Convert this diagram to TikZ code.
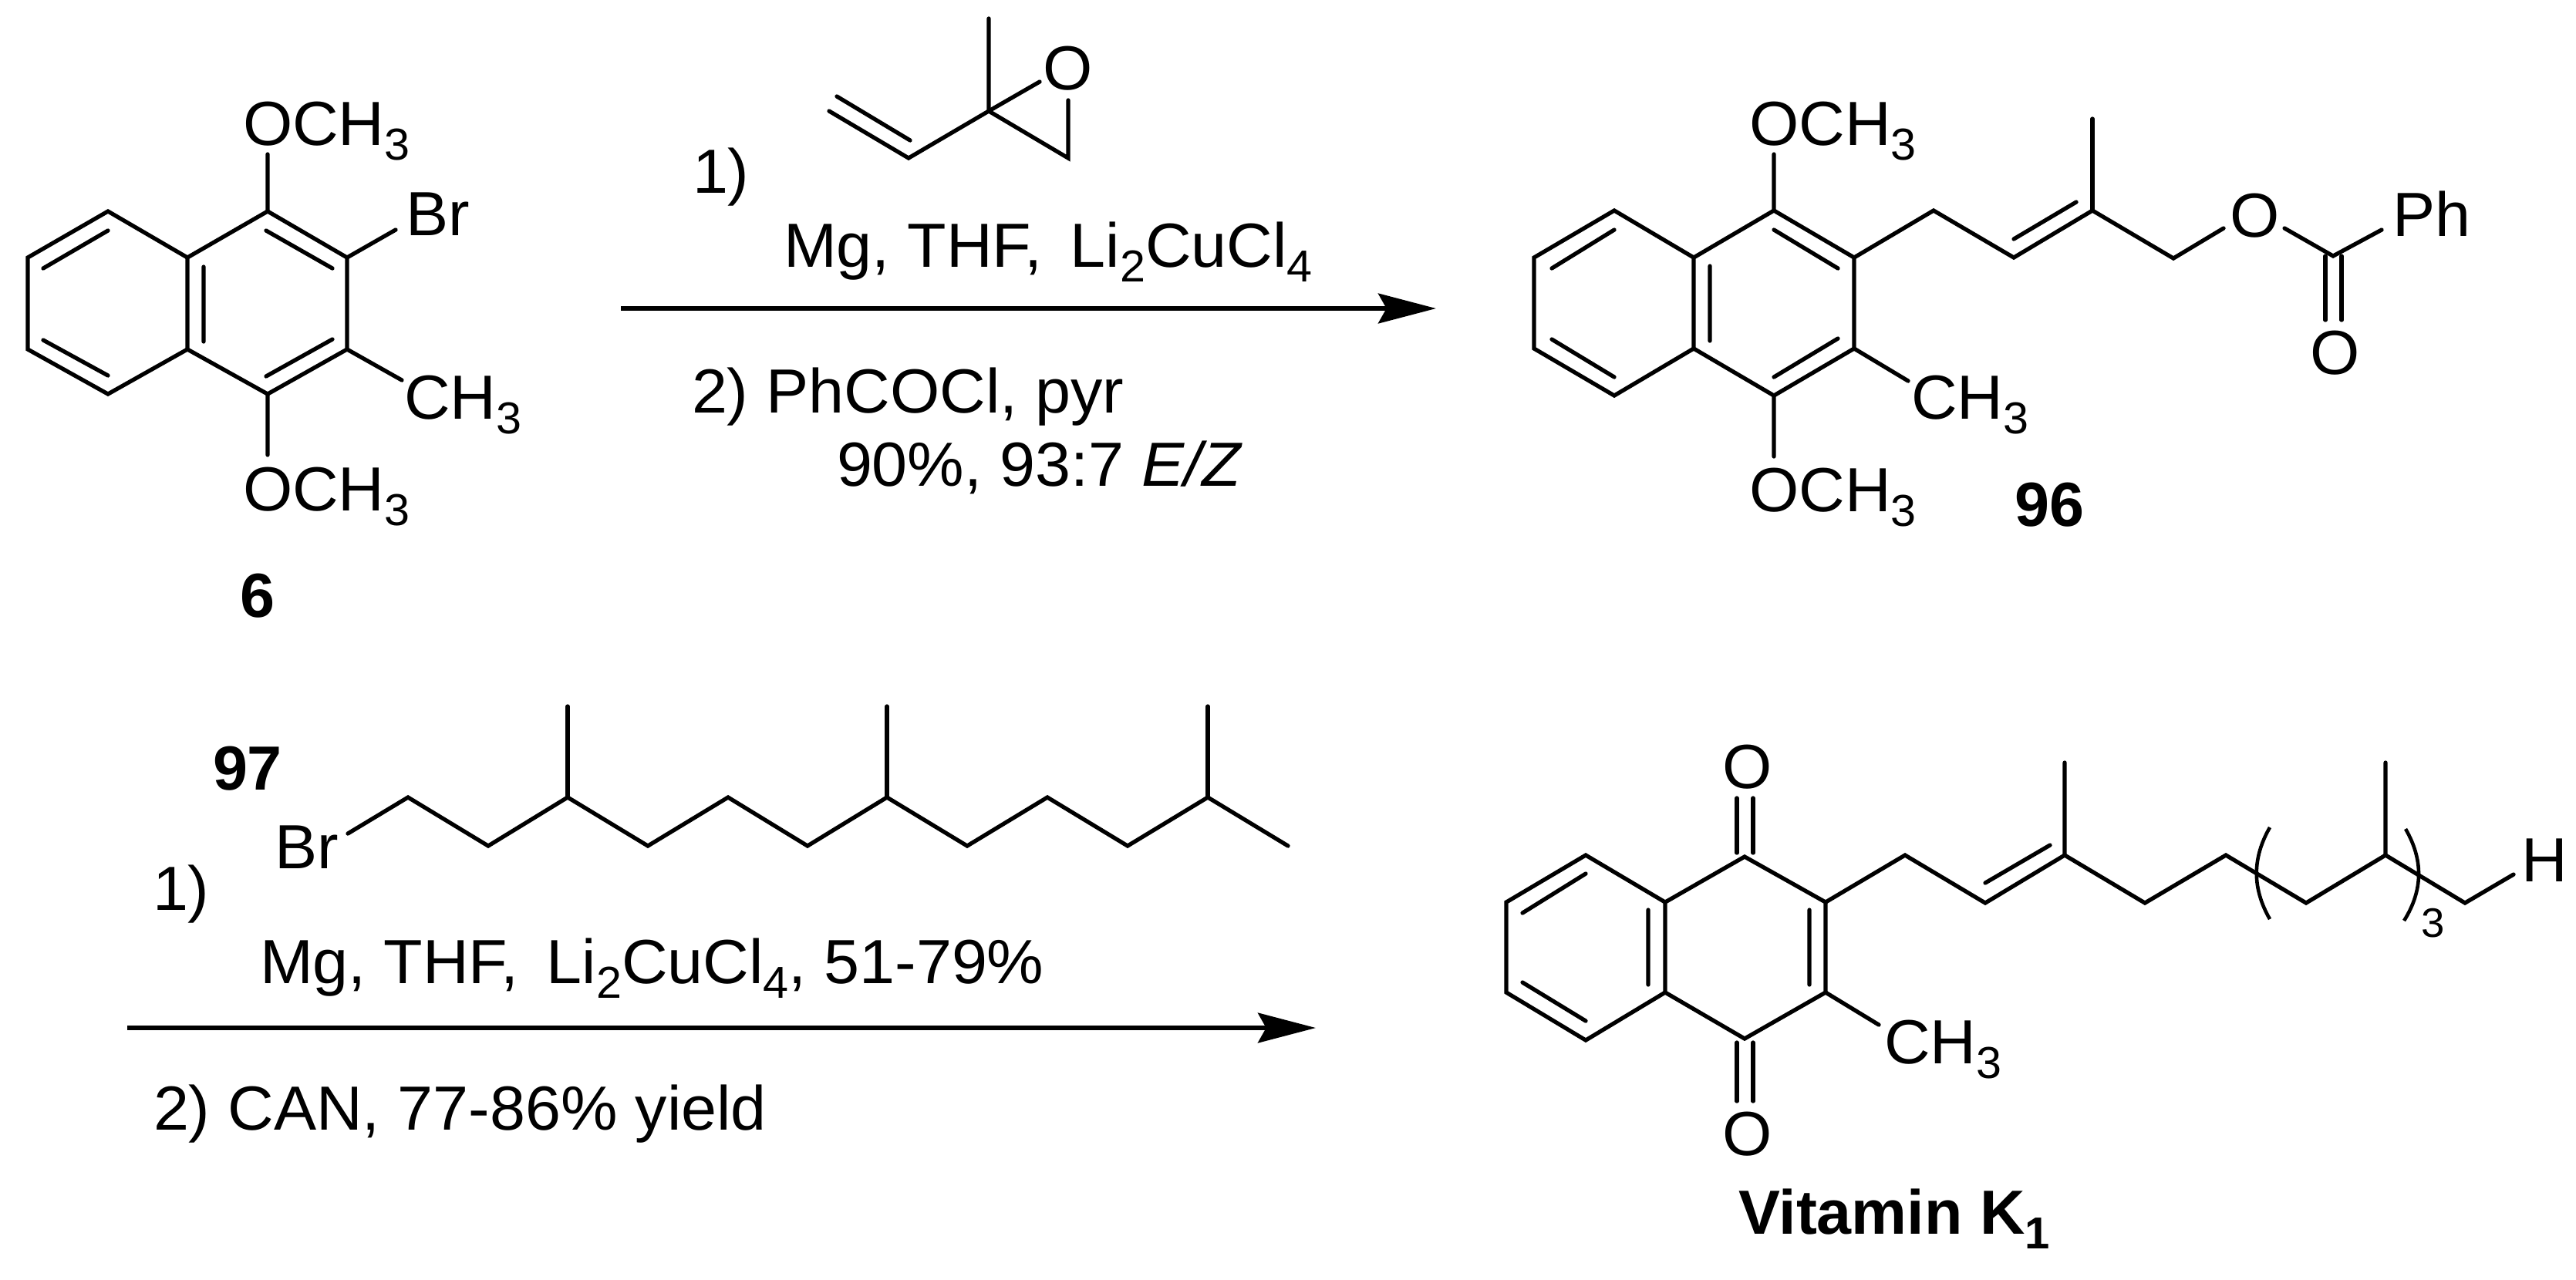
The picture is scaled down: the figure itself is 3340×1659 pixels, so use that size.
\documentclass[tikz,border=0pt]{standalone}
\usepackage{fontspec}
\setmainfont{Liberation Sans}[UprightFeatures={FakeStretch=1.022},ItalicFeatures={FakeStretch=1.022}]
\usetikzlibrary{arrows.meta}
\newcommand{\subs}[1]{\raisebox{-5.4pt}{\fontsize{16.5}{16.5}\selectfont #1}}
\newcommand{\subb}[1]{\raisebox{-5.4pt}{\fontsize{16.5}{16.5}\selectfont\bfseries #1}}
\tikzset{
  x=0.01cm,y=-0.01cm,
  bond/.style={line width=1.5pt,line cap=round,line join=miter},
  txt/.style={anchor=base west,inner sep=0pt,outer sep=0pt,font=\fontsize{23}{23}\selectfont},
  bld/.style={txt,font=\fontsize{23}{23}\selectfont\bfseries},
  rxn/.style={line width=1.7pt,-{Stealth[length=21.3pt,width=11pt,inset=3pt]}}
}
\begin{document}
\begin{tikzpicture}
\useasboundingbox (0,0) rectangle (3340,1659);
\fill[white] (0,0) rectangle (3340,1659);

% ---------- compound 6 ----------
\coordinate (a1) at (347,274);
\coordinate (a2) at (450,334);
\coordinate (a3) at (450,453);
\coordinate (a4) at (347,511);
\coordinate (a5) at (243,453);
\coordinate (a6) at (243,334);
\coordinate (a7) at (140,274);
\coordinate (a8) at (36,334);
\coordinate (a9) at (36,453);
\coordinate (a10) at (140,511);
\draw[bond] (a1)--(a2)--(a3)--(a4)--(a5)--(a6)--cycle;
\draw[bond] (a6)--(a7)--(a8)--(a9)--(a10)--(a5);
\coordinate (ai1) at (140,299); \coordinate (ai2) at (56,348);
\coordinate (ai3) at (56,441); \coordinate (ai4) at (140,487);
\coordinate (ai5) at (264,346); \coordinate (ai6) at (264,443);
\coordinate (ai7) at (345,299); \coordinate (ai8) at (431,348);
\coordinate (ai9) at (431,440); \coordinate (ai10) at (345,488);
\draw[bond] (ai1)--(ai2) (ai3)--(ai4) (ai5)--(ai6) (ai7)--(ai8) (ai9)--(ai10);
\coordinate (ae1) at (347,200); \coordinate (ae2) at (347,590);
\coordinate (ae3) at (513,298); \coordinate (ae4) at (521,493);
\draw[bond] (a1)--(ae1) (a4)--(ae2) (a2)--(ae3) (a3)--(ae4);
\node[txt] (aOt) at (315,188) {OCH\subs{3}};
\node[txt] (aBr) at (526,305) {Br};
\node[txt] (aMe) at (524,543) {CH\subs{3}};
\node[txt] (aOb) at (315,662) {OCH\subs{3}};
\node[bld] (lab6) at (311,800) {6};

% ---------- epoxide reagent ----------
\coordinate (e1) at (1282,144);
\coordinate (e2) at (1282,24);
\coordinate (e3) at (1178,205);
\coordinate (e4) at (1075,144);
\coordinate (e5) at (1085,125);
\coordinate (e6) at (1180,182);
\coordinate (e7) at (1348,106);
\coordinate (e8) at (1385,205);
\coordinate (e9) at (1385,130);
\draw[bond] (e4)--(e3)--(e1)--(e2);
\draw[bond] (e5)--(e6);
\draw[bond] (e1)--(e7);
\draw[bond] (e9)--(e8)--(e1);
\node[txt] (eO) at (1352,116) {O};
\node[txt] (r1a) at (898,250) {1)};
\node[txt] (r1b) at (1016,346) {Mg, THF,\, Li\subs{2}CuCl\subs{4}};
\node[txt] (r1c) at (897,535) {2) PhCOCl, pyr};
\node[txt] (r1d) at (1085,630) {90\%, 93:7 \textit{E/Z}};
\coordinate (ar1s) at (805,400); \coordinate (ar1e) at (1862,400);
\draw[rxn] (ar1s)--(ar1e);

% ---------- compound 96 ----------
\coordinate (b1) at (2300,273);
\coordinate (b2) at (2404,334);
\coordinate (b3) at (2404,452);
\coordinate (b4) at (2300,513);
\coordinate (b5) at (2196,452);
\coordinate (b6) at (2196,334);
\coordinate (b7) at (2093,273);
\coordinate (b8) at (1989,334);
\coordinate (b9) at (1989,452);
\coordinate (b10) at (2093,513);
\draw[bond] (b1)--(b2)--(b3)--(b4)--(b5)--(b6)--cycle;
\draw[bond] (b6)--(b7)--(b8)--(b9)--(b10)--(b5);
\coordinate (bi1) at (2093,298); \coordinate (bi2) at (2012,348);
\coordinate (bi3) at (2012,440); \coordinate (bi4) at (2093,489);
\coordinate (bi5) at (2217,345); \coordinate (bi6) at (2217,442);
\coordinate (bi7) at (2300,298); \coordinate (bi8) at (2383,348);
\coordinate (bi9) at (2383,439); \coordinate (bi10) at (2300,489);
\draw[bond] (bi1)--(bi2) (bi3)--(bi4) (bi5)--(bi6) (bi7)--(bi8) (bi9)--(bi10);
\coordinate (be1) at (2300,200); \coordinate (be2) at (2300,592);
\coordinate (be4) at (2474,494);
\draw[bond] (b1)--(be1) (b4)--(be2) (b3)--(be4);
\coordinate (c1) at (2507,273);
\coordinate (c2) at (2611,334);
\coordinate (c3) at (2713,273);
\coordinate (c4) at (2713,154);
\coordinate (c5) at (2818,335);
\coordinate (c6) at (2883,296);
\coordinate (c7) at (2962,296);
\coordinate (c8) at (3025,332);
\coordinate (c9) at (3088,298);
\coordinate (c10) at (2611,310); \coordinate (c11) at (2692,262);
\coordinate (c12) at (3015,332); \coordinate (c13) at (3015,415);
\coordinate (c14) at (3036,332); \coordinate (c15) at (3036,415);
\draw[bond] (b2)--(c1)--(c2)--(c3)--(c5)--(c6);
\draw[bond] (c3)--(c4);
\draw[bond] (c10)--(c11);
\draw[bond] (c7)--(c8)--(c9);
\draw[bond] (c12)--(c13) (c14)--(c15);
\node[txt] (bOt) at (2268,188) {OCH\subs{3}};
\node[txt] (bOb) at (2268,663) {OCH\subs{3}};
\node[txt] (bMe) at (2478,543) {CH\subs{3}};
\node[txt] (bO) at (2891,307) {O};
\node[txt] (bCO) at (2995,485) {O};
\node[txt] (bPh) at (3102,306) {Ph};
\node[bld] (lab96) at (2612,682) {96};

% ---------- bromide 97 ----------
\coordinate (d0) at (451,1081);
\coordinate (d1) at (529,1034);
\coordinate (d2) at (633,1097);
\coordinate (d3) at (736,1034);
\coordinate (d4) at (840,1097);
\coordinate (d5) at (944,1034);
\coordinate (d6) at (1047,1097);
\coordinate (d7) at (1150,1034);
\coordinate (d8) at (1254,1097);
\coordinate (d9) at (1358,1034);
\coordinate (d10) at (1462,1097);
\coordinate (d11) at (1566,1034);
\coordinate (d12) at (1670,1097);
\coordinate (dm1) at (736,916);
\coordinate (dm2) at (1150,916);
\coordinate (dm3) at (1566,916);
\draw[bond] (d0)--(d1)--(d2)--(d3)--(d4)--(d5)--(d6)--(d7)--(d8)--(d9)--(d10)--(d11)--(d12);
\draw[bond] (d3)--(dm1) (d7)--(dm2) (d11)--(dm3);
\node[bld] (lab97) at (276,1024) {97};
\node[txt] (dBr) at (356,1126) {Br};
\node[txt] (r2a) at (198,1180) {1)};
\node[txt] (r2b) at (337,1275) {Mg, THF,\, Li\subs{2}CuCl\subs{4}, 51-79\%};
\node[txt] (r2c) at (199,1465) {2) CAN, 77-86\% yield};
\coordinate (ar2s) at (165,1333); \coordinate (ar2e) at (1706,1333);
\draw[rxn] (ar2s)--(ar2e);

% ---------- vitamin K1 ----------
\coordinate (k1) at (2262,1111);
\coordinate (k2) at (2367,1170);
\coordinate (k3) at (2367,1287);
\coordinate (k4) at (2262,1347);
\coordinate (k5) at (2159,1287);
\coordinate (k6) at (2159,1170);
\coordinate (k7) at (2056,1109);
\coordinate (k8) at (1953,1170);
\coordinate (k9) at (1953,1287);
\coordinate (k10) at (2056,1349);
\draw[bond] (k1)--(k2)--(k3)--(k4)--(k5)--(k6)--cycle;
\draw[bond] (k6)--(k7)--(k8)--(k9)--(k10)--(k5);
\coordinate (ki1) at (2056,1133); \coordinate (ki2) at (1974,1184);
\coordinate (ki3) at (1974,1274); \coordinate (ki4) at (2056,1324);
\coordinate (ki5) at (2137,1180); \coordinate (ki6) at (2137,1277);
\coordinate (ki7) at (2346,1180); \coordinate (ki8) at (2346,1277);
\draw[bond] (ki1)--(ki2) (ki3)--(ki4) (ki5)--(ki6) (ki7)--(ki8);
\coordinate (ko1) at (2252,1106); \coordinate (ko2) at (2252,1035);
\coordinate (ko3) at (2273,1106); \coordinate (ko4) at (2273,1035);
\coordinate (ko5) at (2252,1352); \coordinate (ko6) at (2252,1428);
\coordinate (ko7) at (2273,1352); \coordinate (ko8) at (2273,1428);
\draw[bond] (ko1)--(ko2) (ko3)--(ko4) (ko5)--(ko6) (ko7)--(ko8);
\coordinate (kme) at (2436,1329);
\draw[bond] (k3)--(kme);
\coordinate (m1) at (2470,1109);
\coordinate (m2) at (2574,1171);
\coordinate (m3) at (2677,1109);
\coordinate (m4) at (2677,989);
\coordinate (m5) at (2781,1171);
\coordinate (m6) at (2886,1109);
\coordinate (m7) at (2990,1171);
\coordinate (m8) at (3093,1109);
\coordinate (m9) at (3093,989);
\coordinate (m10) at (3196,1171);
\coordinate (m11) at (3259,1134);
\coordinate (m12) at (2574,1145); \coordinate (m13) at (2658,1096);
\draw[bond] (k2)--(m1)--(m2)--(m3)--(m5)--(m6)--(m7)--(m8)--(m10)--(m11);
\draw[bond] (m3)--(m4) (m8)--(m9) (m12)--(m13);
\coordinate (br1) at (2943,1073); \coordinate (br2) at (2943,1192);
\coordinate (br3) at (3119,1075); \coordinate (br4) at (3117,1194);
\draw[bond,line width=1.3pt,line cap=butt] (br1) .. controls (2920,1113) and (2920,1152) .. (br2);
\draw[bond,line width=1.3pt,line cap=butt] (br3) .. controls (3142,1115) and (3142,1154) .. (br4);
\node[txt,font=\fontsize{15.2}{15.2}\selectfont] (kn) at (3139,1215) {3};
\node[txt] (kH) at (3269,1143) {H};
\node[txt] (kOt) at (2233,1022) {O};
\node[txt] (kOb) at (2233,1498) {O};
\node[txt] (kMe) at (2443,1379) {CH\subs{3}};
\node[bld] (labK) at (2254,1600) {Vitamin K\subb{1}};
\end{tikzpicture}
\end{document}
